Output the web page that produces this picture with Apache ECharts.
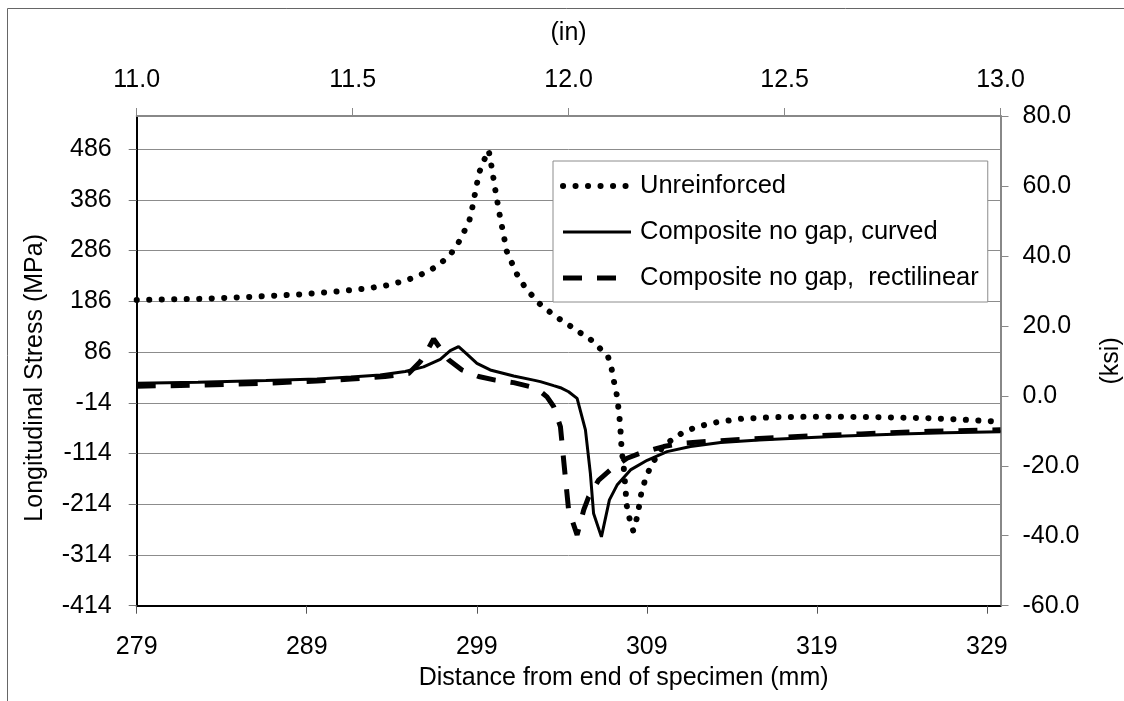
<!DOCTYPE html>
<html>
<head>
<meta charset="utf-8">
<script src="https://cdn.jsdelivr.net/npm/echarts@6/dist/echarts.min.js"></script>
<style>
  html, body { margin: 0; padding: 0; background: #fff; overflow: hidden; }
  #chart { width: 1124px; height: 701px; }
</style>
</head>
<body>
<div id="chart"></div>
<script>
// Longitudinal stress along the specimen, [distance (mm), stress (MPa)]
const unreinforced = [
  [279.4, 189], [283, 191], [286, 195], [289, 200], [291, 205], [293, 212], [294, 217],
  [294.74, 223], [295.44, 230], [296.12, 239], [296.78, 250], [297.37, 264], [297.9, 281],
  [298.31, 301], [298.66, 324], [298.96, 345], [299.12, 368], [299.27, 394], [299.41, 418],
  [299.55, 441], [299.82, 464], [300.1, 484], [300.25, 456], [300.37, 431], [300.49, 406],
  [300.61, 383], [300.74, 358], [300.88, 334], [301.02, 310], [301.15, 286], [301.45, 263],
  [301.74, 241], [302.12, 220], [302.57, 201], [303.08, 182], [303.63, 167], [304.24, 152],
  [304.84, 139], [305.45, 125], [306.06, 112], [306.57, 96], [307.12, 77], [307.32, 55],
  [307.45, 31], [307.61, 7], [307.71, -18], [307.79, -42], [307.85, -66], [307.89, -91],
  [307.95, -115], [308.04, -140], [308.1, -165], [308.16, -189], [308.2, -213], [308.34, -237],
  [308.6, -266], [308.83, -239], [308.96, -215], [309.08, -191], [309.28, -168], [309.55, -145],
  [309.91, -123], [310.32, -101], [310.85, -87], [311.48, -73], [312.13, -64], [312.83, -57],
  [313.54, -52], [315, -45], [317, -42], [320, -41], [323, -42], [326, -44], [328, -47], [330.2, -51]
];
const curved = [
  [279.4, 25], [283, 27], [287, 30], [290, 33], [292, 37], [293.72, 41], [295.19, 48],
  [296.27, 57], [297.25, 72], [297.84, 89], [298.33, 97], [298.82, 82], [299.41, 64],
  [300.19, 51], [301.57, 39], [302.74, 31], [303.14, 28], [303.92, 20], [304.32, 16],
  [304.8, 8], [305.3, -5], [305.79, -67], [306.08, -153], [306.27, -232], [306.73, -278],
  [307.2, -205], [307.65, -176], [308.44, -146], [309.42, -127], [310.59, -110], [311.97, -100],
  [313.74, -92], [316, -87], [318.44, -83], [321, -79], [324.33, -75], [327, -73], [330.2, -71]
];
const rectilinear = [
  [279.4, 19], [283, 21], [287, 25], [290, 29], [292, 33], [294, 38], [295.39, 44],
  [296.07, 67], [296.5, 90], [296.86, 112], [297.74, 71], [298.53, 51], [299.51, 38],
  [300.49, 31], [301.57, 26], [302.55, 18], [303.1, 10], [303.53, -2], [303.92, -21],
  [304.32, -61], [304.51, -127], [304.8, -225], [305.3, -274], [305.69, -225], [305.98, -199],
  [306.57, -166], [307.26, -146], [308.24, -123], [309.02, -113], [310.39, -100], [311.38, -94],
  [312.95, -90], [316, -84], [319, -79], [322, -75], [326, -70], [330.2, -67]
];
const seriesNames = ['Unreinforced', 'Composite no gap, curved', 'Composite no gap,  rectilinear'];

// Axis ranges: 11.0–13.0 in on top, the same span in mm below; -60–80 ksi on the right
const inRange = [11.0, 13.0];
const mmRange = [279.4, 330.2];
const ksiRange = [-60, 80];
const MPA_PER_KSI = 6.89476;
const mpaRange = [ksiRange[0] * MPA_PER_KSI, ksiRange[1] * MPA_PER_KSI];

const FONT = 'Liberation Sans, Arial, sans-serif';
const FS = 25;
const txt = { color: '#000', fontFamily: FONT, fontSize: FS };

// Line looks shared by the plotted series and their legend samples
const styles = [
  { color: '#000', width: 6, type: [0.1, 12.4], cap: 'round' },
  { color: '#000', width: 3, type: 'solid' },
  { color: '#000', width: 5, type: [19, 15], cap: 'butt' }
];

const chart = echarts.init(document.getElementById('chart'), null, { renderer: 'canvas', width: 1124, height: 701 });

chart.setOption({
  animation: false,
  backgroundColor: '#fff',
  textStyle: { fontFamily: FONT },
  grid: { left: 136.7, right: 123.5, top: 116, bottom: 95.3, containLabel: false, outerBoundsMode: 'none' },
  graphic: [
    { type: 'polyline', silent: true, z: 0,
      shape: { points: [[7.5, 705], [7.5, 8.5], [1130, 8.5]] },
      style: { stroke: '#666', lineWidth: 1, fill: null } }
  ],
  legend: {
    orient: 'vertical',
    left: 553, top: 161,
    padding: [12, 9, 11, 7],
    itemGap: 20,
    itemWidth: 68, itemHeight: 24,
    backgroundColor: '#fff',
    borderColor: '#8c8c8c', borderWidth: 1, borderRadius: 0,
    textStyle: Object.assign({}, txt, { fontSize: 25.5, padding: [0, 0, 0, 4] }),
    itemStyle: { opacity: 0 },
    data: seriesNames.map((name, i) => ({
      name: name,
      itemStyle: { opacity: 0 },
      lineStyle: Object.assign({}, styles[i])
    }))
  },
  xAxis: [
    {
      type: 'value', position: 'bottom',
      min: mmRange[0], max: mmRange[1], interval: 10,
      name: 'Distance from end of specimen (mm)', nameLocation: 'middle', nameGap: 60,
      nameTextStyle: Object.assign({}, txt, { padding: [0, 0, 0, 110] }),
      axisLine: { onZero: false, lineStyle: { color: '#000', width: 2 } },
      axisTick: { show: true, inside: false, length: 8, lineStyle: { color: '#555', width: 1 } },
      axisLabel: Object.assign({}, txt, { margin: 29, showMaxLabel: false,
        formatter: v => String(Math.round(v)) }),
      splitLine: { show: false }
    },
    {
      type: 'value', position: 'top',
      min: inRange[0], max: inRange[1], interval: 0.5,
      name: '(in)', nameLocation: 'middle', nameGap: 70,
      nameTextStyle: txt,
      axisLine: { onZero: false, lineStyle: { color: '#888', width: 2 } },
      axisTick: { show: true, inside: false, length: 8, lineStyle: { color: '#888', width: 1 } },
      axisLabel: Object.assign({}, txt, { margin: 23, formatter: v => v.toFixed(1) }),
      splitLine: { show: false }
    }
  ],
  yAxis: [
    {
      type: 'value', position: 'left',
      min: mpaRange[0], max: mpaRange[1], interval: 100,
      name: 'Longitudinal Stress (MPa)', nameLocation: 'middle', nameGap: 89,
      nameTextStyle: Object.assign({}, txt, { padding: [0, 34, 0, 0] }),
      axisLine: { onZero: false, lineStyle: { color: '#000', width: 2 } },
      axisTick: { show: true, inside: false, length: 8, lineStyle: { color: '#777', width: 1 } },
      axisLabel: Object.assign({}, txt, { margin: 25, showMaxLabel: false,
        formatter: v => String(Math.round(v)) }),
      splitLine: { show: true, lineStyle: { color: '#8c8c8c', width: 1 } }
    },
    {
      type: 'value', position: 'right',
      min: ksiRange[0], max: ksiRange[1], interval: 20,
      name: '(ksi)', nameLocation: 'middle', nameGap: 98,
      nameTextStyle: txt,
      axisLine: { onZero: false, lineStyle: { color: '#888', width: 2 } },
      axisTick: { show: true, inside: false, length: 8, lineStyle: { color: '#888', width: 1 } },
      axisLabel: Object.assign({}, txt, { margin: 22, formatter: v => v.toFixed(1) }),
      splitLine: { show: false }
    }
  ],
  series: [unreinforced, curved, rectilinear].map((data, i) => ({
    name: seriesNames[i], type: 'line', xAxisIndex: 0, yAxisIndex: 0,
    data: data, symbol: 'none', z: 3 + i,
    lineStyle: Object.assign({}, styles[i]),
    itemStyle: { color: '#000' }
  }))
});
</script>
</body>
</html>
